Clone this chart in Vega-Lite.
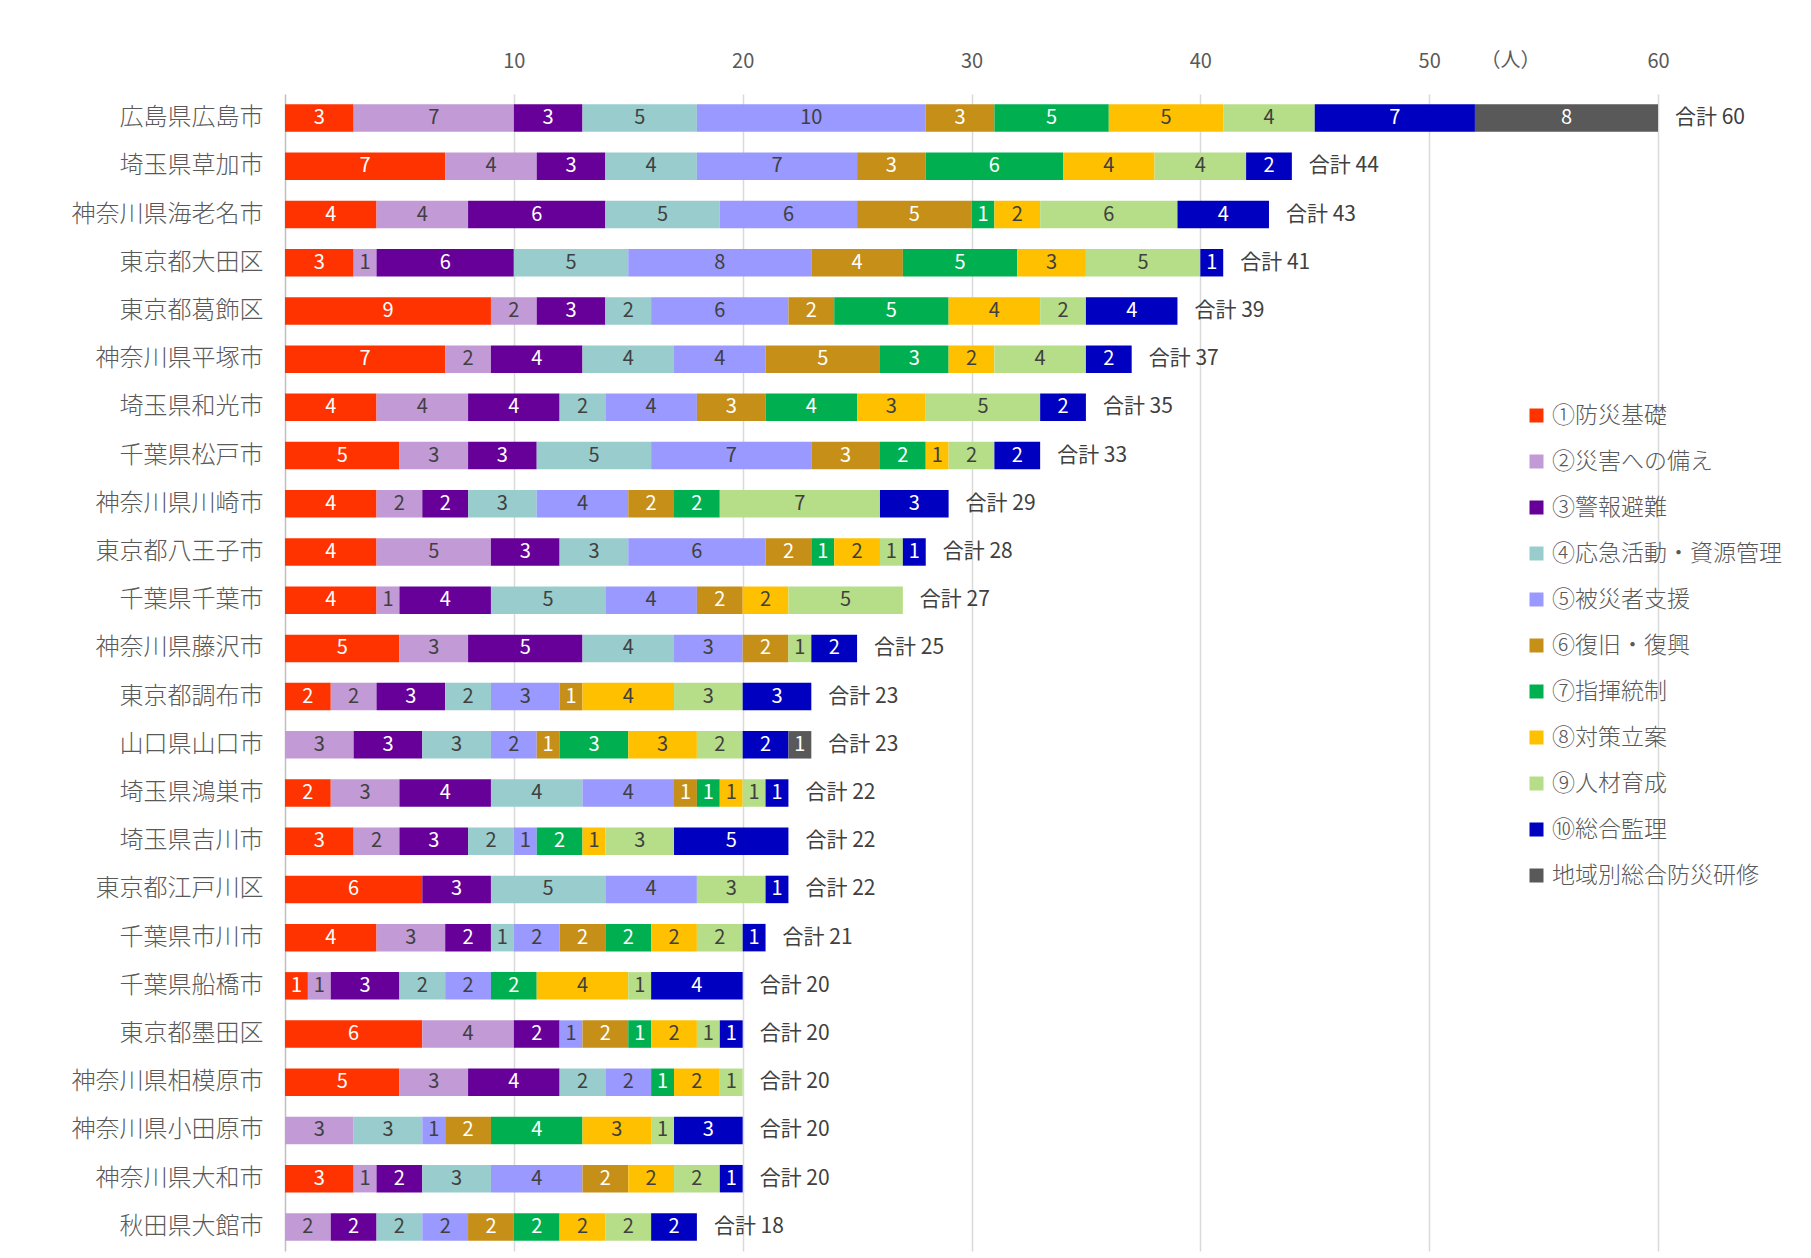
{
 "$schema": "https://vega.github.io/schema/vega-lite/v6.json",
 "width": 1373, "height": 1157,
 "autosize": "none",
 "padding": {"left": 285, "top": 94, "right": 153, "bottom": 7},
 "background": "white",
 "config": {"font": "Noto Sans CJK JP", "view": {"stroke": null}},
 "datasets": {
  "seg": [
   {"city":"広島県広島市","cat":"①防災基礎","n":3},{"city":"広島県広島市","cat":"②災害への備え","n":7},{"city":"広島県広島市","cat":"③警報避難","n":3},{"city":"広島県広島市","cat":"④応急活動・資源管理","n":5},{"city":"広島県広島市","cat":"⑤被災者支援","n":10},{"city":"広島県広島市","cat":"⑥復旧・復興","n":3},{"city":"広島県広島市","cat":"⑦指揮統制","n":5},{"city":"広島県広島市","cat":"⑧対策立案","n":5},{"city":"広島県広島市","cat":"⑨人材育成","n":4},{"city":"広島県広島市","cat":"⑩総合監理","n":7},{"city":"広島県広島市","cat":"地域別総合防災研修","n":8},
   {"city":"埼玉県草加市","cat":"①防災基礎","n":7},{"city":"埼玉県草加市","cat":"②災害への備え","n":4},{"city":"埼玉県草加市","cat":"③警報避難","n":3},{"city":"埼玉県草加市","cat":"④応急活動・資源管理","n":4},{"city":"埼玉県草加市","cat":"⑤被災者支援","n":7},{"city":"埼玉県草加市","cat":"⑥復旧・復興","n":3},{"city":"埼玉県草加市","cat":"⑦指揮統制","n":6},{"city":"埼玉県草加市","cat":"⑧対策立案","n":4},{"city":"埼玉県草加市","cat":"⑨人材育成","n":4},{"city":"埼玉県草加市","cat":"⑩総合監理","n":2},
   {"city":"神奈川県海老名市","cat":"①防災基礎","n":4},{"city":"神奈川県海老名市","cat":"②災害への備え","n":4},{"city":"神奈川県海老名市","cat":"③警報避難","n":6},{"city":"神奈川県海老名市","cat":"④応急活動・資源管理","n":5},{"city":"神奈川県海老名市","cat":"⑤被災者支援","n":6},{"city":"神奈川県海老名市","cat":"⑥復旧・復興","n":5},{"city":"神奈川県海老名市","cat":"⑦指揮統制","n":1},{"city":"神奈川県海老名市","cat":"⑧対策立案","n":2},{"city":"神奈川県海老名市","cat":"⑨人材育成","n":6},{"city":"神奈川県海老名市","cat":"⑩総合監理","n":4},
   {"city":"東京都大田区","cat":"①防災基礎","n":3},{"city":"東京都大田区","cat":"②災害への備え","n":1},{"city":"東京都大田区","cat":"③警報避難","n":6},{"city":"東京都大田区","cat":"④応急活動・資源管理","n":5},{"city":"東京都大田区","cat":"⑤被災者支援","n":8},{"city":"東京都大田区","cat":"⑥復旧・復興","n":4},{"city":"東京都大田区","cat":"⑦指揮統制","n":5},{"city":"東京都大田区","cat":"⑧対策立案","n":3},{"city":"東京都大田区","cat":"⑨人材育成","n":5},{"city":"東京都大田区","cat":"⑩総合監理","n":1},
   {"city":"東京都葛飾区","cat":"①防災基礎","n":9},{"city":"東京都葛飾区","cat":"②災害への備え","n":2},{"city":"東京都葛飾区","cat":"③警報避難","n":3},{"city":"東京都葛飾区","cat":"④応急活動・資源管理","n":2},{"city":"東京都葛飾区","cat":"⑤被災者支援","n":6},{"city":"東京都葛飾区","cat":"⑥復旧・復興","n":2},{"city":"東京都葛飾区","cat":"⑦指揮統制","n":5},{"city":"東京都葛飾区","cat":"⑧対策立案","n":4},{"city":"東京都葛飾区","cat":"⑨人材育成","n":2},{"city":"東京都葛飾区","cat":"⑩総合監理","n":4},
   {"city":"神奈川県平塚市","cat":"①防災基礎","n":7},{"city":"神奈川県平塚市","cat":"②災害への備え","n":2},{"city":"神奈川県平塚市","cat":"③警報避難","n":4},{"city":"神奈川県平塚市","cat":"④応急活動・資源管理","n":4},{"city":"神奈川県平塚市","cat":"⑤被災者支援","n":4},{"city":"神奈川県平塚市","cat":"⑥復旧・復興","n":5},{"city":"神奈川県平塚市","cat":"⑦指揮統制","n":3},{"city":"神奈川県平塚市","cat":"⑧対策立案","n":2},{"city":"神奈川県平塚市","cat":"⑨人材育成","n":4},{"city":"神奈川県平塚市","cat":"⑩総合監理","n":2},
   {"city":"埼玉県和光市","cat":"①防災基礎","n":4},{"city":"埼玉県和光市","cat":"②災害への備え","n":4},{"city":"埼玉県和光市","cat":"③警報避難","n":4},{"city":"埼玉県和光市","cat":"④応急活動・資源管理","n":2},{"city":"埼玉県和光市","cat":"⑤被災者支援","n":4},{"city":"埼玉県和光市","cat":"⑥復旧・復興","n":3},{"city":"埼玉県和光市","cat":"⑦指揮統制","n":4},{"city":"埼玉県和光市","cat":"⑧対策立案","n":3},{"city":"埼玉県和光市","cat":"⑨人材育成","n":5},{"city":"埼玉県和光市","cat":"⑩総合監理","n":2},
   {"city":"千葉県松戸市","cat":"①防災基礎","n":5},{"city":"千葉県松戸市","cat":"②災害への備え","n":3},{"city":"千葉県松戸市","cat":"③警報避難","n":3},{"city":"千葉県松戸市","cat":"④応急活動・資源管理","n":5},{"city":"千葉県松戸市","cat":"⑤被災者支援","n":7},{"city":"千葉県松戸市","cat":"⑥復旧・復興","n":3},{"city":"千葉県松戸市","cat":"⑦指揮統制","n":2},{"city":"千葉県松戸市","cat":"⑧対策立案","n":1},{"city":"千葉県松戸市","cat":"⑨人材育成","n":2},{"city":"千葉県松戸市","cat":"⑩総合監理","n":2},
   {"city":"神奈川県川崎市","cat":"①防災基礎","n":4},{"city":"神奈川県川崎市","cat":"②災害への備え","n":2},{"city":"神奈川県川崎市","cat":"③警報避難","n":2},{"city":"神奈川県川崎市","cat":"④応急活動・資源管理","n":3},{"city":"神奈川県川崎市","cat":"⑤被災者支援","n":4},{"city":"神奈川県川崎市","cat":"⑥復旧・復興","n":2},{"city":"神奈川県川崎市","cat":"⑦指揮統制","n":2},{"city":"神奈川県川崎市","cat":"⑨人材育成","n":7},{"city":"神奈川県川崎市","cat":"⑩総合監理","n":3},
   {"city":"東京都八王子市","cat":"①防災基礎","n":4},{"city":"東京都八王子市","cat":"②災害への備え","n":5},{"city":"東京都八王子市","cat":"③警報避難","n":3},{"city":"東京都八王子市","cat":"④応急活動・資源管理","n":3},{"city":"東京都八王子市","cat":"⑤被災者支援","n":6},{"city":"東京都八王子市","cat":"⑥復旧・復興","n":2},{"city":"東京都八王子市","cat":"⑦指揮統制","n":1},{"city":"東京都八王子市","cat":"⑧対策立案","n":2},{"city":"東京都八王子市","cat":"⑨人材育成","n":1},{"city":"東京都八王子市","cat":"⑩総合監理","n":1},
   {"city":"千葉県千葉市","cat":"①防災基礎","n":4},{"city":"千葉県千葉市","cat":"②災害への備え","n":1},{"city":"千葉県千葉市","cat":"③警報避難","n":4},{"city":"千葉県千葉市","cat":"④応急活動・資源管理","n":5},{"city":"千葉県千葉市","cat":"⑤被災者支援","n":4},{"city":"千葉県千葉市","cat":"⑥復旧・復興","n":2},{"city":"千葉県千葉市","cat":"⑧対策立案","n":2},{"city":"千葉県千葉市","cat":"⑨人材育成","n":5},
   {"city":"神奈川県藤沢市","cat":"①防災基礎","n":5},{"city":"神奈川県藤沢市","cat":"②災害への備え","n":3},{"city":"神奈川県藤沢市","cat":"③警報避難","n":5},{"city":"神奈川県藤沢市","cat":"④応急活動・資源管理","n":4},{"city":"神奈川県藤沢市","cat":"⑤被災者支援","n":3},{"city":"神奈川県藤沢市","cat":"⑥復旧・復興","n":2},{"city":"神奈川県藤沢市","cat":"⑨人材育成","n":1},{"city":"神奈川県藤沢市","cat":"⑩総合監理","n":2},
   {"city":"東京都調布市","cat":"①防災基礎","n":2},{"city":"東京都調布市","cat":"②災害への備え","n":2},{"city":"東京都調布市","cat":"③警報避難","n":3},{"city":"東京都調布市","cat":"④応急活動・資源管理","n":2},{"city":"東京都調布市","cat":"⑤被災者支援","n":3},{"city":"東京都調布市","cat":"⑥復旧・復興","n":1},{"city":"東京都調布市","cat":"⑧対策立案","n":4},{"city":"東京都調布市","cat":"⑨人材育成","n":3},{"city":"東京都調布市","cat":"⑩総合監理","n":3},
   {"city":"山口県山口市","cat":"②災害への備え","n":3},{"city":"山口県山口市","cat":"③警報避難","n":3},{"city":"山口県山口市","cat":"④応急活動・資源管理","n":3},{"city":"山口県山口市","cat":"⑤被災者支援","n":2},{"city":"山口県山口市","cat":"⑥復旧・復興","n":1},{"city":"山口県山口市","cat":"⑦指揮統制","n":3},{"city":"山口県山口市","cat":"⑧対策立案","n":3},{"city":"山口県山口市","cat":"⑨人材育成","n":2},{"city":"山口県山口市","cat":"⑩総合監理","n":2},{"city":"山口県山口市","cat":"地域別総合防災研修","n":1},
   {"city":"埼玉県鴻巣市","cat":"①防災基礎","n":2},{"city":"埼玉県鴻巣市","cat":"②災害への備え","n":3},{"city":"埼玉県鴻巣市","cat":"③警報避難","n":4},{"city":"埼玉県鴻巣市","cat":"④応急活動・資源管理","n":4},{"city":"埼玉県鴻巣市","cat":"⑤被災者支援","n":4},{"city":"埼玉県鴻巣市","cat":"⑥復旧・復興","n":1},{"city":"埼玉県鴻巣市","cat":"⑦指揮統制","n":1},{"city":"埼玉県鴻巣市","cat":"⑧対策立案","n":1},{"city":"埼玉県鴻巣市","cat":"⑨人材育成","n":1},{"city":"埼玉県鴻巣市","cat":"⑩総合監理","n":1},
   {"city":"埼玉県吉川市","cat":"①防災基礎","n":3},{"city":"埼玉県吉川市","cat":"②災害への備え","n":2},{"city":"埼玉県吉川市","cat":"③警報避難","n":3},{"city":"埼玉県吉川市","cat":"④応急活動・資源管理","n":2},{"city":"埼玉県吉川市","cat":"⑤被災者支援","n":1},{"city":"埼玉県吉川市","cat":"⑦指揮統制","n":2},{"city":"埼玉県吉川市","cat":"⑧対策立案","n":1},{"city":"埼玉県吉川市","cat":"⑨人材育成","n":3},{"city":"埼玉県吉川市","cat":"⑩総合監理","n":5},
   {"city":"東京都江戸川区","cat":"①防災基礎","n":6},{"city":"東京都江戸川区","cat":"③警報避難","n":3},{"city":"東京都江戸川区","cat":"④応急活動・資源管理","n":5},{"city":"東京都江戸川区","cat":"⑤被災者支援","n":4},{"city":"東京都江戸川区","cat":"⑨人材育成","n":3},{"city":"東京都江戸川区","cat":"⑩総合監理","n":1},
   {"city":"千葉県市川市","cat":"①防災基礎","n":4},{"city":"千葉県市川市","cat":"②災害への備え","n":3},{"city":"千葉県市川市","cat":"③警報避難","n":2},{"city":"千葉県市川市","cat":"④応急活動・資源管理","n":1},{"city":"千葉県市川市","cat":"⑤被災者支援","n":2},{"city":"千葉県市川市","cat":"⑥復旧・復興","n":2},{"city":"千葉県市川市","cat":"⑦指揮統制","n":2},{"city":"千葉県市川市","cat":"⑧対策立案","n":2},{"city":"千葉県市川市","cat":"⑨人材育成","n":2},{"city":"千葉県市川市","cat":"⑩総合監理","n":1},
   {"city":"千葉県船橋市","cat":"①防災基礎","n":1},{"city":"千葉県船橋市","cat":"②災害への備え","n":1},{"city":"千葉県船橋市","cat":"③警報避難","n":3},{"city":"千葉県船橋市","cat":"④応急活動・資源管理","n":2},{"city":"千葉県船橋市","cat":"⑤被災者支援","n":2},{"city":"千葉県船橋市","cat":"⑦指揮統制","n":2},{"city":"千葉県船橋市","cat":"⑧対策立案","n":4},{"city":"千葉県船橋市","cat":"⑨人材育成","n":1},{"city":"千葉県船橋市","cat":"⑩総合監理","n":4},
   {"city":"東京都墨田区","cat":"①防災基礎","n":6},{"city":"東京都墨田区","cat":"②災害への備え","n":4},{"city":"東京都墨田区","cat":"③警報避難","n":2},{"city":"東京都墨田区","cat":"⑤被災者支援","n":1},{"city":"東京都墨田区","cat":"⑥復旧・復興","n":2},{"city":"東京都墨田区","cat":"⑦指揮統制","n":1},{"city":"東京都墨田区","cat":"⑧対策立案","n":2},{"city":"東京都墨田区","cat":"⑨人材育成","n":1},{"city":"東京都墨田区","cat":"⑩総合監理","n":1},
   {"city":"神奈川県相模原市","cat":"①防災基礎","n":5},{"city":"神奈川県相模原市","cat":"②災害への備え","n":3},{"city":"神奈川県相模原市","cat":"③警報避難","n":4},{"city":"神奈川県相模原市","cat":"④応急活動・資源管理","n":2},{"city":"神奈川県相模原市","cat":"⑤被災者支援","n":2},{"city":"神奈川県相模原市","cat":"⑦指揮統制","n":1},{"city":"神奈川県相模原市","cat":"⑧対策立案","n":2},{"city":"神奈川県相模原市","cat":"⑨人材育成","n":1},
   {"city":"神奈川県小田原市","cat":"②災害への備え","n":3},{"city":"神奈川県小田原市","cat":"④応急活動・資源管理","n":3},{"city":"神奈川県小田原市","cat":"⑤被災者支援","n":1},{"city":"神奈川県小田原市","cat":"⑥復旧・復興","n":2},{"city":"神奈川県小田原市","cat":"⑦指揮統制","n":4},{"city":"神奈川県小田原市","cat":"⑧対策立案","n":3},{"city":"神奈川県小田原市","cat":"⑨人材育成","n":1},{"city":"神奈川県小田原市","cat":"⑩総合監理","n":3},
   {"city":"神奈川県大和市","cat":"①防災基礎","n":3},{"city":"神奈川県大和市","cat":"②災害への備え","n":1},{"city":"神奈川県大和市","cat":"③警報避難","n":2},{"city":"神奈川県大和市","cat":"④応急活動・資源管理","n":3},{"city":"神奈川県大和市","cat":"⑤被災者支援","n":4},{"city":"神奈川県大和市","cat":"⑥復旧・復興","n":2},{"city":"神奈川県大和市","cat":"⑧対策立案","n":2},{"city":"神奈川県大和市","cat":"⑨人材育成","n":2},{"city":"神奈川県大和市","cat":"⑩総合監理","n":1},
   {"city":"秋田県大館市","cat":"②災害への備え","n":2},{"city":"秋田県大館市","cat":"③警報避難","n":2},{"city":"秋田県大館市","cat":"④応急活動・資源管理","n":2},{"city":"秋田県大館市","cat":"⑤被災者支援","n":2},{"city":"秋田県大館市","cat":"⑥復旧・復興","n":2},{"city":"秋田県大館市","cat":"⑦指揮統制","n":2},{"city":"秋田県大館市","cat":"⑧対策立案","n":2},{"city":"秋田県大館市","cat":"⑨人材育成","n":2},{"city":"秋田県大館市","cat":"⑩総合監理","n":2}
  ],
  "tot": [
   {"city":"広島県広島市","total":60,"label":"合計 60"},
   {"city":"埼玉県草加市","total":44,"label":"合計 44"},
   {"city":"神奈川県海老名市","total":43,"label":"合計 43"},
   {"city":"東京都大田区","total":41,"label":"合計 41"},
   {"city":"東京都葛飾区","total":39,"label":"合計 39"},
   {"city":"神奈川県平塚市","total":37,"label":"合計 37"},
   {"city":"埼玉県和光市","total":35,"label":"合計 35"},
   {"city":"千葉県松戸市","total":33,"label":"合計 33"},
   {"city":"神奈川県川崎市","total":29,"label":"合計 29"},
   {"city":"東京都八王子市","total":28,"label":"合計 28"},
   {"city":"千葉県千葉市","total":27,"label":"合計 27"},
   {"city":"神奈川県藤沢市","total":25,"label":"合計 25"},
   {"city":"東京都調布市","total":23,"label":"合計 23"},
   {"city":"山口県山口市","total":23,"label":"合計 23"},
   {"city":"埼玉県鴻巣市","total":22,"label":"合計 22"},
   {"city":"埼玉県吉川市","total":22,"label":"合計 22"},
   {"city":"東京都江戸川区","total":22,"label":"合計 22"},
   {"city":"千葉県市川市","total":21,"label":"合計 21"},
   {"city":"千葉県船橋市","total":20,"label":"合計 20"},
   {"city":"東京都墨田区","total":20,"label":"合計 20"},
   {"city":"神奈川県相模原市","total":20,"label":"合計 20"},
   {"city":"神奈川県小田原市","total":20,"label":"合計 20"},
   {"city":"神奈川県大和市","total":20,"label":"合計 20"},
   {"city":"秋田県大館市","total":18,"label":"合計 18"}
  ]
 },
 "layer": [
  {
   "data": {"name": "seg"},
   "mark": {"type": "bar"},
   "encoding": {
    "y": {"field": "city", "type": "nominal",
     "sort": ["広島県広島市","埼玉県草加市","神奈川県海老名市","東京都大田区","東京都葛飾区","神奈川県平塚市","埼玉県和光市","千葉県松戸市","神奈川県川崎市","東京都八王子市","千葉県千葉市","神奈川県藤沢市","東京都調布市","山口県山口市","埼玉県鴻巣市","埼玉県吉川市","東京都江戸川区","千葉県市川市","千葉県船橋市","東京都墨田区","神奈川県相模原市","神奈川県小田原市","神奈川県大和市","秋田県大館市"],
     "scale": {"paddingInner": 0.43, "paddingOuter": 0.215},
     "axis": {"title": null, "ticks": false, "domain": true, "domainColor": "#BFBFBF", "domainWidth": 1.5, "grid": false, "labelFontSize": 24, "labelFontWeight": 300, "labelColor": "#595959", "labelPadding": 22, "labelLimit": 400}
    },
    "x": {"field": "n", "type": "quantitative", "stack": "zero",
     "scale": {"domain": [0, 60], "nice": false},
     "axis": {"orient": "top", "values": [10, 20, 30, 40, 50, 60], "grid": true, "gridColor": "#D9D9D9", "gridWidth": 1.5, "domain": false, "ticks": false, "labelFontSize": 20, "labelColor": "#595959", "labelPadding": 23, "labelFlush": false,
      "title": "（人）", "titleX": 1225, "titleY": -34, "titleAlign": "center", "titleBaseline": "middle", "titleFontSize": 20, "titleFontWeight": "normal", "titleColor": "#595959"}
    },
    "color": {"field": "cat", "type": "nominal",
     "scale": {"domain": ["①防災基礎","②災害への備え","③警報避難","④応急活動・資源管理","⑤被災者支援","⑥復旧・復興","⑦指揮統制","⑧対策立案","⑨人材育成","⑩総合監理","地域別総合防災研修"],
      "range": ["#FF3300","#C29AD6","#660099","#99CCCC","#9999FF","#C68F18","#00B050","#FFC000","#B6DE88","#0000C0","#595959"]},
     "legend": {"orient": "none", "legendX": 1240, "legendY": 310, "direction": "vertical", "title": null, "symbolType": "square", "symbolSize": 196, "symbolStrokeWidth": 0, "labelFontSize": 23, "labelFontWeight": 300, "labelColor": "#595959", "rowPadding": 22, "labelOffset": 4, "padding": 0, "labelLimit": 400}
    },
    "order": {"field": "cat", "type": "ordinal", "sort": "ascending"}
   }
  },
  {
   "data": {"name": "seg"},
   "mark": {"type": "text", "fontSize": 20, "baseline": "middle", "align": "center"},
   "encoding": {
    "y": {"field": "city", "type": "nominal",
     "sort": ["広島県広島市","埼玉県草加市","神奈川県海老名市","東京都大田区","東京都葛飾区","神奈川県平塚市","埼玉県和光市","千葉県松戸市","神奈川県川崎市","東京都八王子市","千葉県千葉市","神奈川県藤沢市","東京都調布市","山口県山口市","埼玉県鴻巣市","埼玉県吉川市","東京都江戸川区","千葉県市川市","千葉県船橋市","東京都墨田区","神奈川県相模原市","神奈川県小田原市","神奈川県大和市","秋田県大館市"]},
    "x": {"field": "n", "type": "quantitative", "stack": "zero", "bandPosition": 0.5},
    "detail": {"field": "cat", "type": "nominal"},
    "order": {"field": "cat", "type": "ordinal", "sort": "ascending"},
    "text": {"field": "n", "type": "quantitative"},
    "color": {"condition": {"test": "indexof(['②災害への備え','④応急活動・資源管理','⑤被災者支援','⑧対策立案','⑨人材育成'], datum.cat) >= 0", "value": "#404040"}, "value": "#FFFFFF"}
   }
  },
  {
   "data": {"name": "tot"},
   "mark": {"type": "text", "align": "left", "baseline": "middle", "dx": 17, "fontSize": 21, "color": "#404040"},
   "encoding": {
    "y": {"field": "city", "type": "nominal",
     "sort": ["広島県広島市","埼玉県草加市","神奈川県海老名市","東京都大田区","東京都葛飾区","神奈川県平塚市","埼玉県和光市","千葉県松戸市","神奈川県川崎市","東京都八王子市","千葉県千葉市","神奈川県藤沢市","東京都調布市","山口県山口市","埼玉県鴻巣市","埼玉県吉川市","東京都江戸川区","千葉県市川市","千葉県船橋市","東京都墨田区","神奈川県相模原市","神奈川県小田原市","神奈川県大和市","秋田県大館市"]},
    "x": {"field": "total", "type": "quantitative"},
    "text": {"field": "label", "type": "nominal"}
   }
  }
 ]
}
